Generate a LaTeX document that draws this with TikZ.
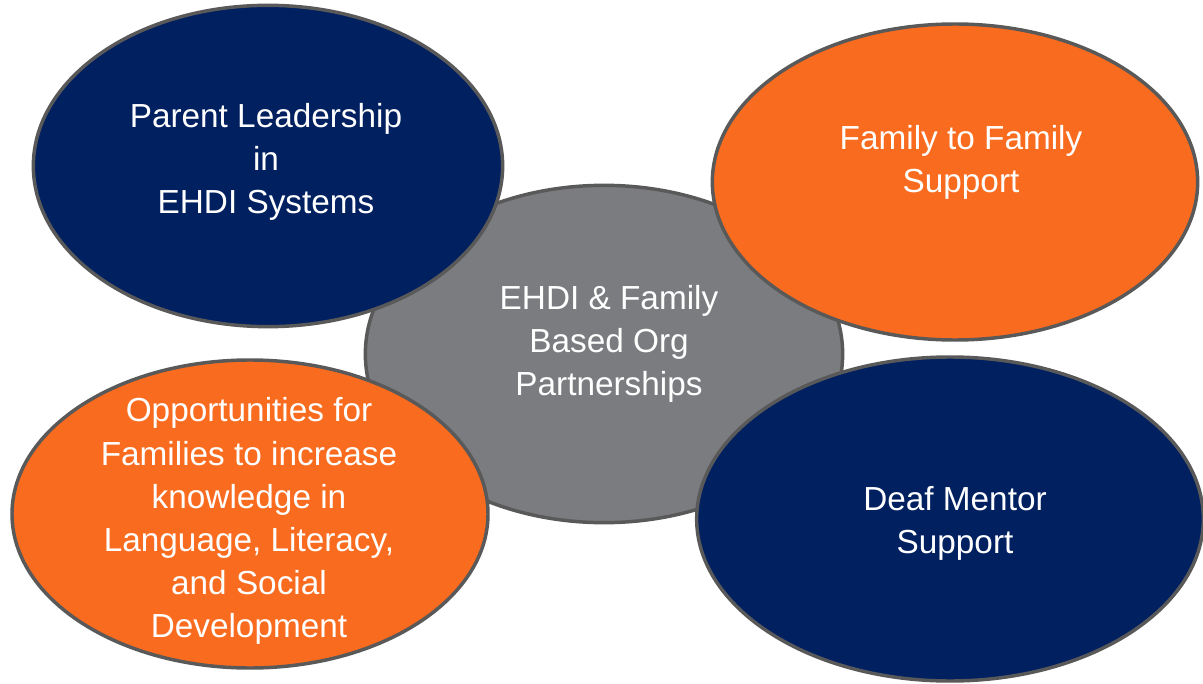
\documentclass[tikz,border=0pt]{standalone}
\usepackage{fontspec}
\setmainfont{Liberation Sans}
\usetikzlibrary{shapes.geometric}
\definecolor{navy}{HTML}{002060}
\definecolor{arancio}{HTML}{F96B1E}
\definecolor{grigio}{HTML}{7B7C80}
\definecolor{bordo}{HTML}{595959}

\tikzset{
  bolla/.style = {ellipse, draw = bordo, line width = 2.6pt, inner sep = 0pt},
  testo/.style = {text = white, align = center, font = \fontsize{25}{32.3}\selectfont},
}

\begin{document}
\begin{tikzpicture}[x = 0.75pt, y = -0.75pt]
    % Riquadro
    \useasboundingbox (0,0) rectangle (1203,684);
    % Bolla centrale
    \node[bolla, fill = grigio, minimum width = 358pt, minimum height = 253pt] (centro) at (604,354) {};
    \node[testo] (tcentro) at (609,344) {EHDI \& Family\\Based Org\\Partnerships};
    % Bolle esterne
    \node[bolla, fill = navy, minimum width = 352pt, minimum height = 241pt] (genitori) at (268,166) {};
    \node[testo] (tgenitori) at (266,162) {Parent Leadership\\in\\EHDI Systems};
    \node[bolla, fill = arancio, minimum width = 364pt, minimum height = 237pt] (famiglie) at (955,182) {};
    \node[testo] (tfamiglie) at (961,162) {Family to Family\\Support};
    \node[bolla, fill = arancio, minimum width = 357pt, minimum height = 231pt] (opportunita) at (250,514) {};
    \node[testo] (topportunita) at (249,521) {Opportunities for\\Families to increase\\knowledge in\\Language, Literacy,\\and Social\\Development};
    \node[bolla, fill = navy, minimum width = 380pt, minimum height = 243pt] (mentore) at (950,519) {};
    \node[testo] (tmentore) at (955,523) {Deaf Mentor\\Support};
\end{tikzpicture}
\end{document}
